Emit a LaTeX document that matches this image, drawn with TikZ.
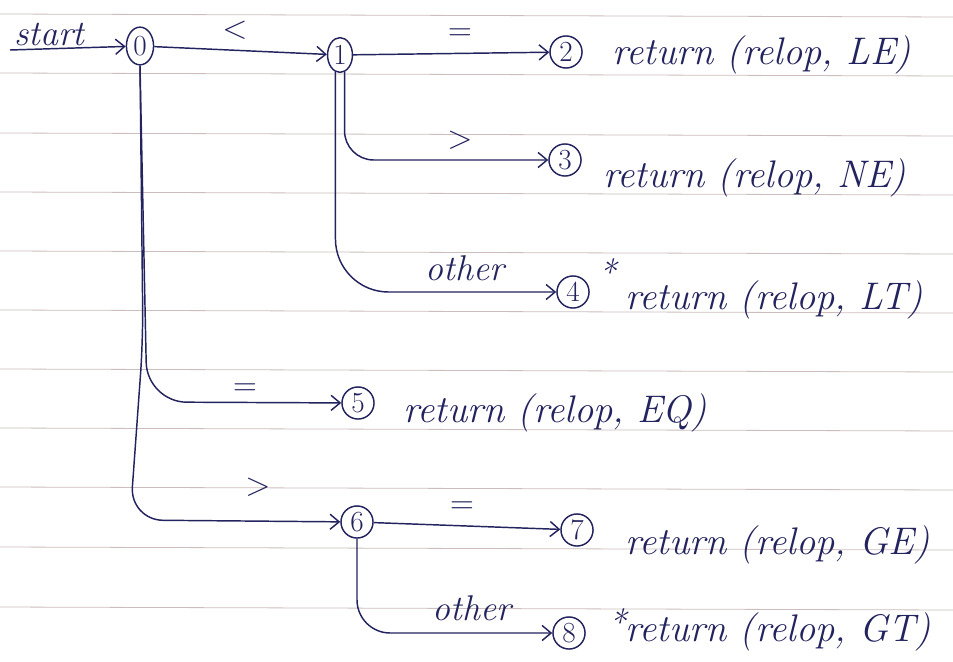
\documentclass[tikz,border=0pt]{standalone}
\usetikzlibrary{shapes.geometric,arrows.meta}
\definecolor{ink}{RGB}{35,35,95}
\definecolor{paperrule}{RGB}{205,190,190}
\begin{document}
\begin{tikzpicture}[x=0.0265cm,y=-0.0265cm,
  state/.style={draw=ink,line width=1.1pt,circle,inner sep=0pt,minimum size=0.85cm,text=ink,font=\fontsize{22}{24}\selectfont},
  egg/.style={draw=ink,line width=1.1pt,ellipse,inner sep=0pt,minimum width=0.72cm,minimum height=1.0cm,text=ink,font=\fontsize{22}{24}\selectfont},
  edge/.style={draw=ink,line width=1.1pt,-{Straight Barb[length=2.4mm,width=4mm]}},
  txt/.style={text=ink,font=\itshape\fontsize{29}{32}\selectfont,inner sep=0pt,anchor=west},
  lab/.style={text=ink,font=\itshape\fontsize{27}{30}\selectfont,inner sep=0pt},
  paper/.style={draw=paperrule,line width=0.6pt}]
\useasboundingbox (0,0) rectangle (953,662);
\fill[white] (0,0) rectangle (953,662);
% ruled paper lines
\foreach \yy in {14,73,133,192,251,310,369,428,487,547,607}
  \draw[paper] (0,\yy) -- (953,\yy+3);
% states
\node[egg] (n0) at (140,46) {0};
\node[egg,minimum width=0.66cm,minimum height=0.92cm] (n1) at (340,55) {1};
\node[state] (n2) at (566,52) {2};
\node[state] (n3) at (565,160) {3};
\node[state] (n4) at (573,292) {4};
\node[state] (n5) at (358,403) {5};
\node[state] (n6) at (357,522) {6};
\node[state] (n7) at (577,530) {7};
\node[state] (n8) at (569,633) {8};
% start
\coordinate (s) at (10,50);
\node[lab,anchor=south west] (st) at (14,46) {start};
\draw[edge] (s) -- (n0);
% transitions
\draw[edge] (n0) -- (n1);
\node[lab] (l01) at (235,30) {$<$};
\draw[edge] (n1) -- (n2);
\node[lab] (l12) at (460,35) {$=$};
\draw[edge,rounded corners=22] (n1.-75) |- (n3);
\node[lab] (l13) at (460,140) {$>$};
\draw[edge,rounded corners=40] (n1.-105) |- (n4);
\node[lab] (l14) at (465,268) {other};
\draw[edge,rounded corners=30] (n0.south) -- (147,402) -- (n5);
\node[lab] (l05) at (245,390) {$=$};
\draw[edge,rounded corners=25] (n0.south) -- (143,340) -- (130,520) -- (n6);
\node[lab] (l06) at (258,487) {$>$};
\draw[edge] (n6) -- (n7);
\node[lab] (l67) at (462,508) {$=$};
\draw[edge,rounded corners=25] (n6.south) |- (n8);
\node[lab] (l68) at (472,608) {other};
% stars
\node[lab] (s4) at (607,272) {*};
\node[lab] (s8) at (617,622) {*};
% outputs
\node[txt] (t2) at (612,55) {return (relop, LE)};
\node[txt] (t3) at (603,178) {return (relop, NE)};
\node[txt] (t4) at (625,300) {return (relop, LT)};
\node[txt] (t5) at (403,413) {return (relop, EQ)};
\node[txt] (t7) at (625,545) {return (relop, GE)};
\node[txt] (t8) at (625,632) {return (relop, GT)};
\end{tikzpicture}
\end{document}
